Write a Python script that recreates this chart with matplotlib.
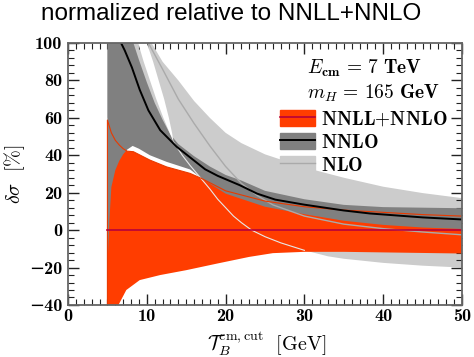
import matplotlib
matplotlib.use('Agg')
import matplotlib.pyplot as plt
from matplotlib.patches import Patch
from matplotlib.lines import Line2D
from matplotlib.ticker import MultipleLocator

plt.rcParams['mathtext.fontset'] = 'cm'

# NLO band (light gray): lower edge, upper edge, central line
nlo_lo_x = [5, 8, 9, 10, 11, 12, 13.4, 14.5, 15.5, 17, 18, 19, 20, 21, 22, 23.3, 25, 27, 30, 33, 35, 40, 45, 50]
nlo_lo = [60, 60, 55, 52, 50, 48.5, 47, 40, 34.5, 27, 22, 16.5, 12, 7.5, 4, 0, -3.5, -6.8, -10.8, -14, -15.3, -17.5, -19, -20]
nlo_hi_x = [5, 7, 9, 10, 10.6, 12, 14, 16, 18, 20, 22, 25, 30, 35, 40, 45, 50]
nlo_hi = [250, 180, 130, 110, 100, 90, 80, 69, 60, 52, 46.5, 40.5, 33.5, 28, 23.2, 19.8, 17.1]
nlo_c_x = [9.5, 10.2, 12, 14, 16, 18, 20, 22, 24, 26, 30, 35, 40, 45, 50]
nlo_c = [110, 100, 86, 70, 57, 45, 34, 25, 18.5, 13.5, 7.5, 3.2, 0.8, -1, -2.5]

# white gap between the NNLO and NLO bands at small cut
gap_y = [110, 100, 90, 80, 70, 60, 52, 47]
gap_xl = [8.4, 8.9, 9.6, 10.4, 11.2, 12.1, 12.9, 13.4]
gap_xr = [9.5, 10.0, 10.8, 11.5, 12.2, 12.8, 13.2, 13.4]

# NNLL+NNLO band (red)
red_lo_x = [5, 5.5, 6, 6.4, 7.4, 9.1, 11.7, 15, 19, 23, 26, 30, 35, 40, 45, 50]
red_lo = [-100, -60, -46, -40, -32, -26.7, -24, -21.4, -17.8, -14.3, -12.3, -11.6, -11.6, -11.9, -12.2, -12.5]
red_hi_x = [5, 5.5, 6, 6.5, 7, 7.5, 8.3, 10.4, 12.5, 15.5, 17, 20, 25, 30, 35, 40, 45, 50]
red_hi = [58.8, 52, 48, 45.5, 43.5, 42.2, 41.9, 37.4, 33.8, 30.3, 27.5, 21, 15.5, 12.5, 10.7, 9.5, 8.3, 7.5]
red_c_x = [5, 50]
red_c = [0, 0]

# NNLO band (dark gray)
nnlo_lo_x = [5.0, 5.1, 5.25, 5.5, 6, 6.5, 7, 7.5, 8.2, 9, 10.4, 12.5, 15.5, 17, 20, 25, 30, 35, 40, 45, 50]
nnlo_lo = [-20, -10, 5, 23, 32, 37, 40.5, 43, 45, 43.5, 40, 36.5, 32.4, 27.5, 19.5, 12.5, 8.5, 5, 2.8, 1.4, 0.6]
nnlo_hi_x = [5, 7, 8.3, 9, 10, 11, 12, 13, 14, 16, 18, 20, 22, 25, 30, 35, 40, 45, 50]
nnlo_hi = [200, 130, 100, 91, 79, 68, 59, 51, 46, 39.5, 34, 29.5, 26.5, 21, 16.5, 13.5, 12.3, 12, 11.7]
nnlo_c_x = [6.3, 6.5, 7.2, 8.1, 9.1, 10.2, 11.7, 13.8, 15.3, 17.4, 19, 21.8, 24, 26.3, 30, 35, 38.3, 45, 50]
nnlo_c = [106, 102, 96, 87, 75, 64, 53.4, 44.5, 39.5, 32.5, 29, 24, 19.5, 16.3, 13.6, 10.5, 8.9, 6.8, 5.7]

x_ticks = [0, 10, 20, 30, 40, 50]
x_ticklabels = ['0', '10', '20', '30', '40', '50']
y_ticks = [-40, -20, 0, 20, 40, 60, 80, 100]
y_ticklabels = ['\u221240', '\u221220', '0', '20', '40', '60', '80', '100']
labels = [r'$\mathbf{NNLL{+}NNLO}$', r'$\mathbf{NNLO}$', r'$\mathbf{NLO}$']

red = '#ff3d00'
dark = '#808080'
light = '#cccccc'

fig = plt.figure(figsize=(4.74, 3.57), dpi=100)
ax = fig.add_axes([0.1435, 0.1457, 0.8312, 0.7339])

def band(xl, yl, xh, yh, color, z):
    xs = list(xl) + list(xh)[::-1]
    ys = list(yl) + list(yh)[::-1]
    ax.fill(xs, ys, color=color, lw=0, zorder=z)

band(nlo_lo_x, nlo_lo, nlo_hi_x, nlo_hi, light, 1)
band(red_lo_x, red_lo, red_hi_x, red_hi, red, 2)
band(nnlo_lo_x, nnlo_lo, nnlo_hi_x, nnlo_hi, dark, 3)
ax.fill(gap_xl + gap_xr[::-1], gap_y + gap_y[::-1], color='white', lw=0, zorder=4)

# visible part of the NLO lower edge
wx = [x for x in nlo_lo_x if 13.4 <= x <= 30]
wy = [y for x, y in zip(nlo_lo_x, nlo_lo) if 13.4 <= x <= 30]
ax.plot(wx, wy, color='#e8e8e8', lw=0.8, zorder=5)
ax.plot(nlo_c_x, nlo_c, color='#aaaaaa', lw=1.0, zorder=5)
ax.plot([red_lo_x[0]] + red_hi_x, [red_lo[0]] + red_hi, color='#e83a00', lw=0.8, zorder=6)
ax.plot(nnlo_c_x, nnlo_c, color='black', lw=1.4, zorder=7)
ax.plot(red_c_x, red_c, color='#b8003c', lw=1.2, zorder=8)

ax.set_xlim(0, 50)
ax.set_ylim(-40, 100)
ax.set_xticks(x_ticks, labels=x_ticklabels)
ax.set_yticks(y_ticks, labels=y_ticklabels)
for lbl in ax.get_xticklabels() + ax.get_yticklabels():
    lbl.set_fontfamily(['cmb10', 'DejaVu Serif'])
ax.xaxis.set_minor_locator(MultipleLocator(1))
ax.yaxis.set_minor_locator(MultipleLocator(4))
ax.tick_params(which='both', direction='in', top=True, right=True, color='#222222', labelsize=13)
ax.tick_params(which='major', length=8, width=1.0)
ax.tick_params(which='minor', length=4, width=0.8)
ax.tick_params(axis='x', pad=3)
ax.tick_params(axis='y', pad=4)
for s in ax.spines.values():
    s.set_color('#666666')
    s.set_linewidth(1.3)
    s.set_zorder(10)

ax.set_xlabel(r'$\mathcal{T}_B^{\mathrm{cm,cut}}\ \ [\mathrm{GeV}]$', fontsize=14.5)
ax.xaxis.set_label_coords(0.505, -0.095)
ax.set_ylabel(r'$\delta\sigma\ \ [\%]$', fontsize=14.5)
ax.yaxis.set_label_coords(-0.105, 0.5)

ax.text(30.3, 86.6, r'$E_{\mathbf{cm}}\,=\,\mathbf{7\ TeV}$', fontsize=14, ha='left', va='center')
ax.text(30.3, 73.2, r'$m_H\,=\,\mathbf{165\ GeV}$', fontsize=14, ha='left', va='center')

handles = [(Patch(color=red), Line2D([], [], color='#b8003c', lw=1.2)),
           (Patch(color=dark), Line2D([], [], color='black', lw=1.4)),
           (Patch(color=light), Line2D([], [], color='#aaaaaa', lw=1.0))]
ax.legend(handles, labels, loc='upper left', bbox_to_anchor=(0.538, 0.745), frameon=False,
          fontsize=14, handlelength=1.8, handleheight=0.9, handletextpad=0.3,
          labelspacing=0.2, borderpad=0, borderaxespad=0)

fig.text(0.488, 0.962, 'normalized relative to NNLL+NNLO', ha='center', va='center',
         fontsize=17.5, family='Liberation Sans')

fig.savefig('out.png', dpi=100)
